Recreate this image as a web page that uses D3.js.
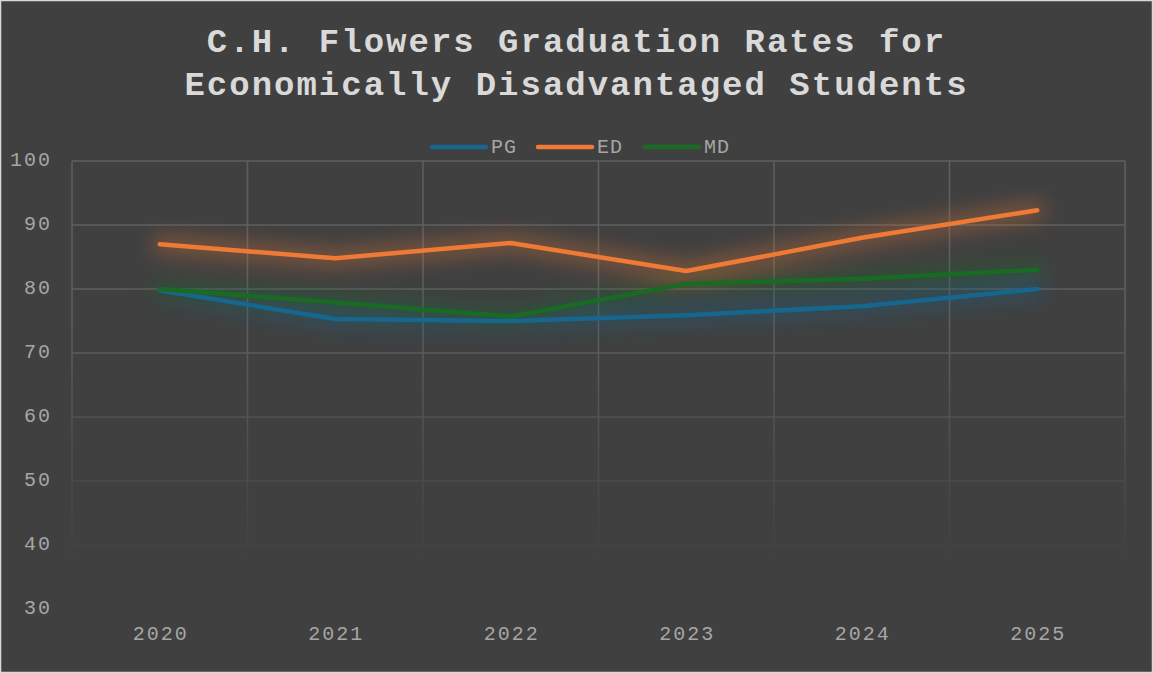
<!DOCTYPE html>
<html lang="en">
<head>
  <meta charset="UTF-8">
  <title>C.H. Flowers Graduation Rates</title>
  <script src="https://d3js.org/d3.v7.min.js"></script>
  <style>
    html, body { margin: 0; padding: 0; background: #404040; }
    svg { display: block; }
    .title { font-family: "Liberation Mono", "Courier New", monospace; font-weight: bold; font-size: 34px; fill: #d9d9d9; letter-spacing: 2px; }
    .tick-label { font-family: "Liberation Mono", "Courier New", monospace; font-size: 20px; fill: #a6a6a6; letter-spacing: 2px; }
    .legend-label { font-family: "Liberation Mono", "Courier New", monospace; font-size: 20px; fill: #a6a6a6; letter-spacing: 1px; }
  </style>
</head>
<body>
  <div id="chart"></div>
  <script>
    // data
    const years = ["2020", "2021", "2022", "2023", "2024", "2025"];
    const seriesNames = ["PG", "ED", "MD"];
    const pgValues = [79.8, 75.3, 75.0, 75.9, 77.3, 80.0];
    const edValues = [87.0, 84.8, 87.2, 82.8, 88.0, 92.3];
    const mdValues = [80.0, 77.9, 75.7, 80.8, 81.6, 83.0];
    const yTicks = [30, 40, 50, 60, 70, 80, 90, 100];

    const colors = { PG: "#17668e", ED: "#ef7a35", MD: "#196b24" };
    const series = [
      { name: "PG", values: pgValues },
      { name: "ED", values: edValues },
      { name: "MD", values: mdValues }
    ];

    const width = 1153, height = 673;
    const plot = { left: 72, right: 1125, top: 161, bottom: 609 };

    const svg = d3.select("#chart").append("svg")
      .attr("width", width)
      .attr("height", height);

    const defs = svg.append("defs");

    // fade the grid towards the bottom
    const grad = defs.append("linearGradient")
      .attr("id", "gridFade")
      .attr("gradientUnits", "userSpaceOnUse")
      .attr("x1", 0).attr("x2", 0)
      .attr("y1", plot.top).attr("y2", 565);
    grad.append("stop").attr("offset", "0.4").attr("stop-color", "#fff").attr("stop-opacity", 1);
    grad.append("stop").attr("offset", "1").attr("stop-color", "#fff").attr("stop-opacity", 0);
    defs.append("mask").attr("id", "gridMask")
      .append("rect")
      .attr("x", 0).attr("y", 0).attr("width", width).attr("height", height)
      .attr("fill", "url(#gridFade)");

    // glow around lines
    const glow = defs.append("filter")
      .attr("id", "glow")
      .attr("x", "-20%").attr("y", "-150%")
      .attr("width", "140%").attr("height", "400%");
    glow.append("feGaussianBlur").attr("stdDeviation", 10);

    // background + border
    svg.append("rect")
      .attr("x", 0.5).attr("y", 0.5)
      .attr("width", width - 1).attr("height", height - 1)
      .attr("fill", "#404040")
      .attr("stroke", "#d9d9d9")
      .attr("stroke-width", 1.5);

    // title
    const title = svg.append("text")
      .attr("class", "title")
      .attr("text-anchor", "middle");
    title.append("tspan").attr("x", width / 2).attr("y", 52).text("C.H. Flowers Graduation Rates for");
    title.append("tspan").attr("x", width / 2).attr("y", 95).text("Economically Disadvantaged Students");

    // scales
    const x = d3.scaleBand().domain(years).range([plot.left, plot.right]).padding(0);
    const y = d3.scaleLinear().domain([30, 100]).range([plot.bottom, plot.top]);

    // grid
    const grid = svg.append("g")
      .attr("mask", "url(#gridMask)")
      .attr("stroke", "#5f5f5f")
      .attr("stroke-width", 1.5);

    grid.selectAll(".hgrid")
      .data(yTicks.filter(d => d > 30))
      .enter()
      .append("line")
      .attr("x1", plot.left).attr("x2", plot.right)
      .attr("y1", d => y(d)).attr("y2", d => y(d));

    const edges = years.map(d => x(d)).concat([plot.right]);
    grid.selectAll(".vgrid")
      .data(edges)
      .enter()
      .append("line")
      .attr("x1", d => d).attr("x2", d => d)
      .attr("y1", plot.top).attr("y2", 565);

    // y labels
    svg.selectAll(".ylab")
      .data(yTicks)
      .enter()
      .append("text")
      .attr("class", "tick-label")
      .attr("x", 52)
      .attr("y", d => y(d))
      .attr("text-anchor", "end")
      .attr("dominant-baseline", "middle")
      .text(d => d);

    // x labels
    svg.selectAll(".xlab")
      .data(years)
      .enter()
      .append("text")
      .attr("class", "tick-label")
      .attr("x", d => x(d) + x.bandwidth() / 2 + 1)
      .attr("y", 635)
      .attr("text-anchor", "middle")
      .attr("dominant-baseline", "middle")
      .text(d => d);

    // lines
    const line = d3.line()
      .x((d, i) => x(years[i]) + x.bandwidth() / 2)
      .y(d => y(d));

    const glowG = svg.append("g").attr("filter", "url(#glow)").attr("opacity", 0.4);
    glowG.selectAll("path")
      .data(series)
      .enter()
      .append("path")
      .attr("d", d => line(d.values))
      .attr("fill", "none")
      .attr("stroke", d => colors[d.name])
      .attr("stroke-width", 16)
      .attr("stroke-linecap", "round")
      .attr("stroke-linejoin", "round");

    svg.append("g").selectAll("path")
      .data(series)
      .enter()
      .append("path")
      .attr("d", d => line(d.values))
      .attr("fill", "none")
      .attr("stroke", d => colors[d.name])
      .attr("stroke-width", 4.5)
      .attr("stroke-linecap", "round")
      .attr("stroke-linejoin", "round");

    // legend
    const legendX = [432, 538, 645];
    const legend = svg.append("g");
    seriesNames.forEach((name, i) => {
      legend.append("line")
        .attr("x1", legendX[i]).attr("x2", legendX[i] + 54)
        .attr("y1", 147).attr("y2", 147)
        .attr("stroke", colors[name])
        .attr("stroke-width", 4.5)
        .attr("stroke-linecap", "round");
      legend.append("text")
        .attr("class", "legend-label")
        .attr("x", legendX[i] + 59)
        .attr("y", 148)
        .attr("dominant-baseline", "middle")
        .text(name);
    });
  </script>
</body>
</html>
